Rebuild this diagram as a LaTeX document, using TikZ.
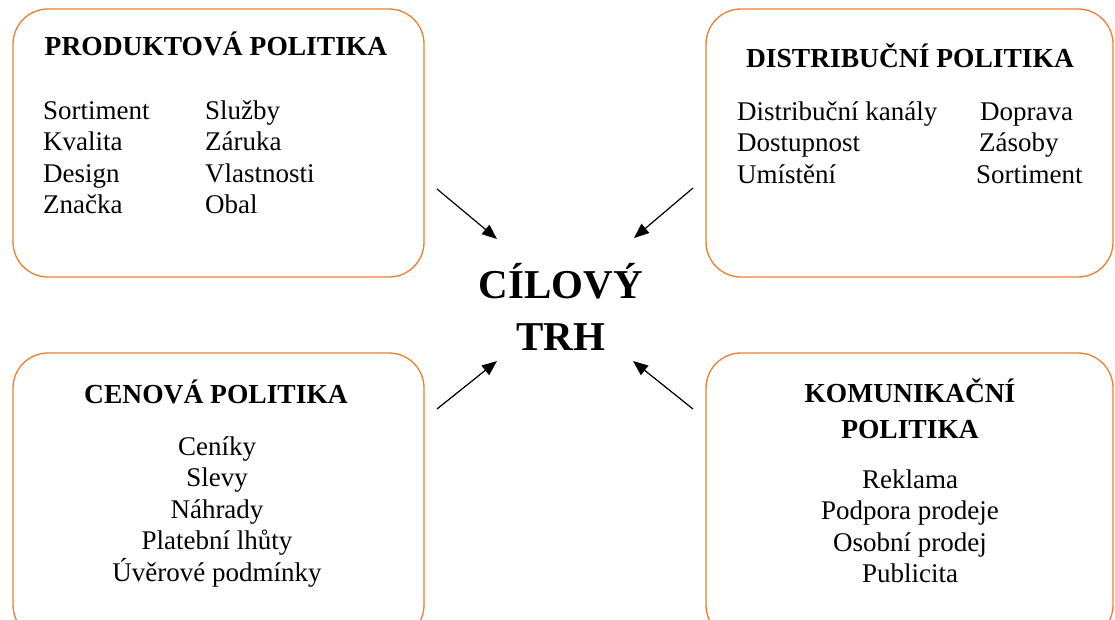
\documentclass[tikz,border=0pt]{standalone}
\usepackage{fontspec}
\setmainfont{Liberation Serif}
\usepackage{tikz}
\usetikzlibrary{arrows.meta,positioning,calc}
\definecolor{mixorange}{RGB}{237,125,49}

\begin{document}
\begin{tikzpicture}[x=1pt, y=-1pt,
    polbox/.style={draw=mixorange, line width=1.3pt, rounded corners=35pt, minimum width=411pt, inner sep=0pt},
    head/.style={font=\fontsize{27.5}{32}\selectfont\bfseries, inner sep=0pt},
    item/.style={font=\fontsize{27}{32}\selectfont, inner sep=0pt},
    goal/.style={font=\fontsize{41}{52}\selectfont\bfseries, inner sep=0pt},
    arr/.style={-{Triangle[length=15pt,width=12pt]}, line width=1.2pt}
]
\useasboundingbox (0,0) rectangle (1115,619);
\clip (0,0) rectangle (1115,619);

% boxes
\node[polbox, minimum height=268pt] (prod) at (218.5,143) {};
\node[polbox, minimum height=268pt, minimum width=407pt] (dist) at (909.5,143) {};
\node[polbox, minimum height=287pt] (cena) at (218.5,496.5) {};
\node[polbox, minimum height=287pt, minimum width=407pt] (kom) at (909.5,496.5) {};

% produktova politika
\node[head, anchor=base] (prodT) at (216,55) {PRODUKTOVÁ POLITIKA};
\foreach \t [count=\i from 0] in {Sortiment,Kvalita,Design,Značka}
  \node[item, anchor=base west] (prodA\i) at (43,{119+31.5*\i}) {\t};
\foreach \t [count=\i from 0] in {Služby,Záruka,Vlastnosti,Obal}
  \node[item, anchor=base west] (prodB\i) at (205,{119+31.5*\i}) {\t};

% distribucni politika
\node[head, anchor=base] (distT) at (910,67) {DISTRIBUČNÍ POLITIKA};
\foreach \t [count=\i from 0] in {Distribuční kanály,Dostupnost,Umístění}
  \node[item, anchor=base west] (distA\i) at (737,{120+31.5*\i}) {\t};
\node[item, anchor=base west] (distB0) at (980,120) {Doprava};
\node[item, anchor=base west] (distB1) at (979,151.5) {Zásoby};
\node[item, anchor=base west] (distB2) at (976,183) {Sortiment};

% cenova politika
\node[head, anchor=base] (cenaT) at (216,403) {CENOVÁ POLITIKA};
\foreach \t [count=\i from 0] in {Ceníky,Slevy,Náhrady,Platební lhůty,Úvěrové podmínky}
  \node[item, anchor=base] (cenaA\i) at (217,{455+31.5*\i}) {\t};

% komunikacni politika
\node[head, anchor=base] (komT1) at (910,402) {KOMUNIKAČNÍ};
\node[head, anchor=base] (komT2) at (910,438) {POLITIKA};
\foreach \t [count=\i from 0] in {Reklama,Podpora prodeje,Osobní prodej,Publicita}
  \node[item, anchor=base] (komA\i) at (910,{488+31.5*\i}) {\t};

% cilovy trh
\node[goal, anchor=base] (trh1) at (561,298) {CÍLOVÝ};
\node[goal, anchor=base] (trh2) at (561,350) {TRH};

\coordinate (a1) at (437,189);  \coordinate (b1) at (497,239);
\coordinate (a2) at (693,188);  \coordinate (b2) at (634,238);
\coordinate (a3) at (437,409);  \coordinate (b3) at (497,361);
\coordinate (a4) at (693,409);  \coordinate (b4) at (633,361);
\foreach \i in {1,...,4}
  \draw[arr] (a\i) -- (b\i);
\end{tikzpicture}
\end{document}
